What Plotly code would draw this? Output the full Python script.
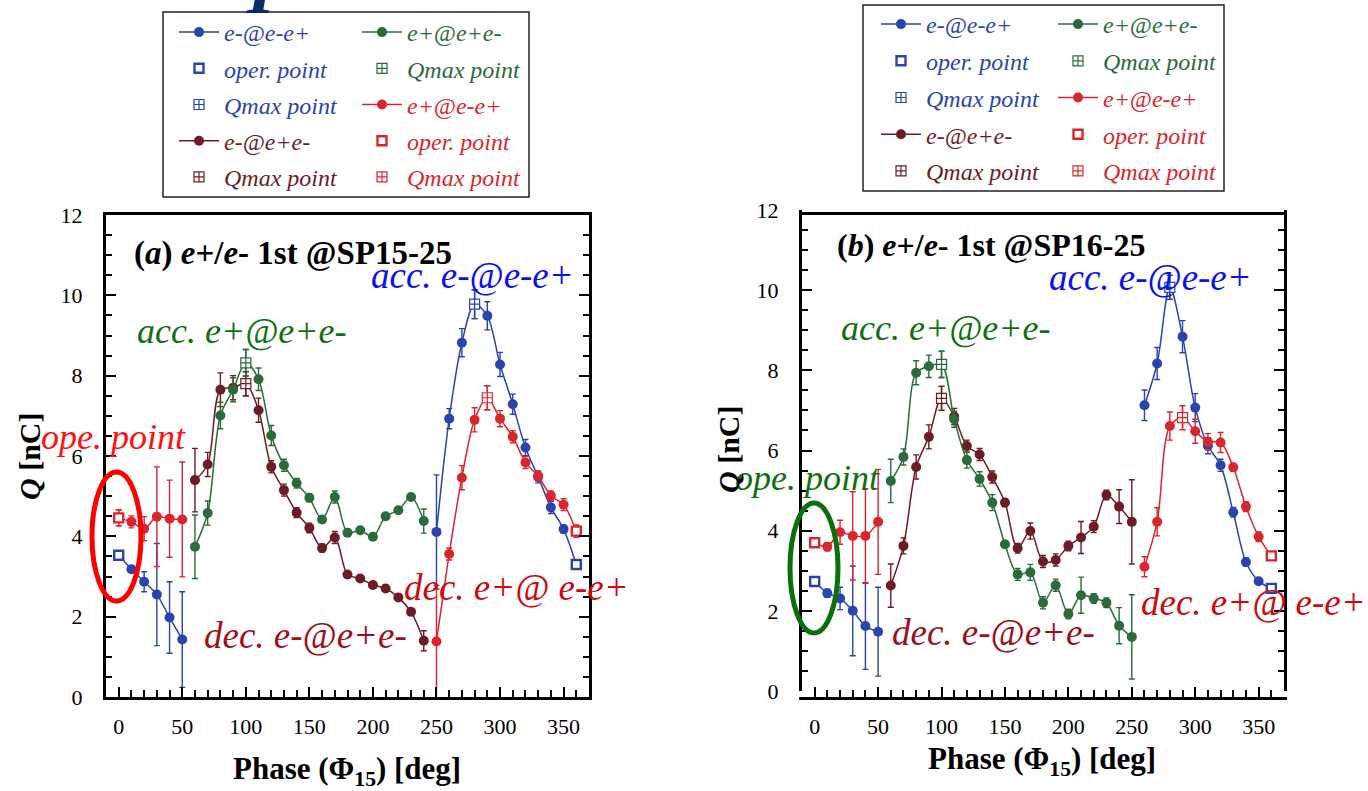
import plotly.graph_objects as go

W, H = 1368, 791
SERIF = "Liberation Serif"

BLUE = "#2a44ad"
GREEN = "#2b6a3b"
RED = "#d9262e"
DRED = "#6d1b25"

# ---------------- panel (a): e+/e- 1st @SP15-25 ----------------
phi_a_blue = [0, 10, 20, 30, 40, 50, None, 250, 260, 270, 280, 290, 300, 310, 320, 330, 340, 350, 360]
q_a_blue = [3.53, 3.18, 2.87, 2.55, 1.98, 1.43, None, 4.11, 6.93, 8.82, 9.78, 9.49, 8.28, 7.29, 6.21, 5.48, 4.72, 4.18, 3.30]
e_a_blue = [0.10, 0.08, 0.25, 1.27, 0.89, 1.19, None, 1.42, 0.25, 0.35, 0.36, 0.35, 0.30, 0.25, 0.20, 0.15, 0.15, 0.10, 0.10]

phi_a_red = [0, 10, 20, 30, 40, 50, None, 250, 260, 270, 280, 290, 300, 310, 320, 330, 340, 350, 360]
q_a_red = [4.46, 4.36, 4.19, 4.49, 4.44, 4.42, None, 1.38, 3.56, 5.46, 6.90, 7.45, 6.93, 6.48, 5.84, 5.50, 5.01, 4.79, 4.13]
e_a_red = [0.20, 0.15, 0.30, 1.24, 0.96, 1.43, None, 1.40, 0.15, 0.30, 0.30, 0.30, 0.20, 0.15, 0.15, 0.12, 0.12, 0.15, 0.15]

phi_a_green = [60, 70, 80, 90, 100, 110, 120, 130, 140, 150, 160, 170, 180, 190, 200, 210, 220, 230, 240]
q_a_green = [3.74, 4.58, 7.01, 7.65, 8.32, 7.91, 6.51, 5.77, 5.32, 4.96, 4.42, 4.98, 4.09, 4.15, 3.99, 4.50, 4.65, 4.98, 4.38]
e_a_green = [0.79, 0.30, 0.33, 0.30, 0.33, 0.28, 0.25, 0.15, 0.12, 0.10, 0.08, 0.15, 0.08, 0.06, 0.06, 0.06, 0.06, 0.06, 0.30]

phi_a_dred = [60, 70, 80, 90, 100, 110, 120, 130, 140, 150, 160, 170, 180, 190, 200, 210, 220, 230, 240]
q_a_dred = [5.40, 5.79, 7.65, 7.70, 7.80, 7.14, 5.73, 5.15, 4.59, 4.21, 3.71, 3.97, 3.05, 2.95, 2.79, 2.70, 2.48, 2.12, 1.40]
e_a_dred = [0.79, 0.30, 0.42, 0.30, 0.30, 0.30, 0.15, 0.15, 0.12, 0.12, 0.10, 0.15, 0.06, 0.05, 0.05, 0.05, 0.05, 0.06, 0.25]

oper_a_blue = [0, 360]
oper_a_red = [0, 360]
qmax_a_blue = [280]
qmax_a_red = [290]
qmax_a_green = [100]
qmax_a_dred = [100]

# ---------------- panel (b): e+/e- 1st @SP16-25 ----------------
phi_b_blue = [0, 10, 20, 30, 40, 50, None, 260, 270, 280, 290, 300, 310, 320, 330, 340, 350, 360]
q_b_blue = [2.73, 2.44, 2.31, 2.00, 1.62, 1.48, None, 7.13, 8.17, 10.07, 8.84, 7.07, 6.12, 5.63, 4.46, 3.22, 2.74, 2.56]
e_b_blue = [0.08, 0.10, 0.28, 1.12, 1.08, 1.11, None, 0.38, 0.40, 0.30, 0.40, 0.35, 0.20, 0.15, 0.12, 0.10, 0.08, 0.05]

phi_b_red = [0, 10, 20, 30, 40, 50, None, 260, 270, 280, 290, 300, 310, 320, 330, 340, 350, 360]
q_b_red = [3.70, 3.60, 3.96, 3.87, 3.87, 4.22, None, 3.10, 4.22, 6.61, 6.82, 6.48, 6.22, 6.20, 5.58, 4.60, 3.85, 3.37]
e_b_red = [0.10, 0.10, 0.30, 1.10, 1.18, 1.31, None, 0.25, 0.35, 0.35, 0.30, 0.30, 0.20, 0.25, 0.10, 0.12, 0.12, 0.10]

phi_b_green = [60, 70, 80, 90, 100, 110, 120, 130, 140, 150, 160, 170, 180, 190, 200, 210, 220, 230, 240, 250]
q_b_green = [5.24, 5.84, 7.94, 8.10, 8.15, 6.78, 5.76, 5.29, 4.70, 3.66, 2.91, 2.96, 2.20, 2.64, 1.92, 2.39, 2.31, 2.20, 1.63, 1.35]
e_b_green = [0.54, 0.20, 0.30, 0.28, 0.33, 0.20, 0.20, 0.18, 0.20, 0.08, 0.15, 0.20, 0.15, 0.15, 0.12, 0.45, 0.12, 0.12, 0.45, 1.05]

phi_b_dred = [60, 70, 80, 90, 100, 110, 120, 130, 140, 150, 160, 170, 180, 190, 200, 210, 220, 230, 240, 250]
q_b_dred = [2.63, 3.62, 5.59, 6.34, 7.30, 6.85, 6.11, 5.90, 5.34, 4.70, 3.56, 3.99, 3.23, 3.27, 3.62, 3.83, 4.10, 4.89, 4.60, 4.22]
e_b_dred = [0.54, 0.20, 0.30, 0.30, 0.30, 0.20, 0.15, 0.15, 0.15, 0.10, 0.12, 0.20, 0.15, 0.15, 0.12, 0.40, 0.15, 0.12, 0.42, 1.05]

oper_b_blue = [0, 360]
oper_b_red = [0, 360]
qmax_b_blue = [280]
qmax_b_red = [290]
qmax_b_green = [100]
qmax_b_dred = [100]

# legend labels
lbl_blue = "e-@e-e+"
lbl_green = "e+@e+e-"
lbl_red = "e+@e-e+"
lbl_dred = "e-@e+e-"
lbl_oper = "oper. point"
lbl_qmax = "Qmax point"


def px(x):
    return x / W


def py(y):
    return 1 - y / H


def col(text, c):
    return "<span style='color:%s'>%s</span>" % (c, text)


fig = go.Figure()
group_counter = [0]


def series(phi, q, err, color, label, xa, ya, legend, rank):
    group_counter[0] += 1
    fig.add_trace(go.Scatter(
        x=phi, y=q, mode="lines+markers", connectgaps=False,
        line=dict(color=color, width=1.5, shape="spline", smoothing=0.9),
        marker=dict(symbol="circle", size=10, color=color),
        error_y=dict(type="data", array=err, color=color, thickness=1.4, width=3),
        name=col(label, color), legend=legend, legendrank=rank,
        legendgroup="g%d" % group_counter[0], xaxis=xa, yaxis=ya))


def points(sel, phi, q, err, color, kind, label, xa, ya, legend, rank):
    group_counter[0] += 1
    xs = [p for p in sel]
    ys = [q[phi.index(p)] for p in sel]
    es = [err[phi.index(p)] for p in sel]
    if kind == "oper":
        mk = dict(symbol="square", size=9, color="white", line=dict(color=color, width=2.4))
    else:
        mk = dict(symbol="square-cross", size=10, color="white", line=dict(color=color, width=1.2))
    fig.add_trace(go.Scatter(
        x=xs, y=ys, mode="markers", marker=mk,
        error_y=dict(type="data", array=es, color=color, thickness=1.4, width=3),
        name=col(label, color), legend=legend, legendrank=rank,
        legendgroup="g%d" % group_counter[0], xaxis=xa, yaxis=ya))


# panel (a) main curves
series(phi_a_blue, q_a_blue, e_a_blue, BLUE, lbl_blue, "x", "y", "legend", 1)
series(phi_a_dred, q_a_dred, e_a_dred, DRED, lbl_dred, "x", "y", "legend", 4)
series(phi_a_green, q_a_green, e_a_green, GREEN, lbl_green, "x", "y", "legend2", 1)
series(phi_a_red, q_a_red, e_a_red, RED, lbl_red, "x", "y", "legend2", 3)
# panel (a) special points
points(oper_a_blue, phi_a_blue, q_a_blue, e_a_blue, BLUE, "oper", lbl_oper, "x", "y", "legend", 2)
points(qmax_a_blue, phi_a_blue, q_a_blue, e_a_blue, BLUE, "qmax", lbl_qmax, "x", "y", "legend", 3)
points(qmax_a_dred, phi_a_dred, q_a_dred, e_a_dred, DRED, "qmax", lbl_qmax, "x", "y", "legend", 5)
points(qmax_a_green, phi_a_green, q_a_green, e_a_green, GREEN, "qmax", lbl_qmax, "x", "y", "legend2", 2)
points(oper_a_red, phi_a_red, q_a_red, e_a_red, RED, "oper", lbl_oper, "x", "y", "legend2", 4)
points(qmax_a_red, phi_a_red, q_a_red, e_a_red, RED, "qmax", lbl_qmax, "x", "y", "legend2", 5)

# panel (b) main curves
series(phi_b_blue, q_b_blue, e_b_blue, BLUE, lbl_blue, "x2", "y2", "legend3", 1)
series(phi_b_dred, q_b_dred, e_b_dred, DRED, lbl_dred, "x2", "y2", "legend3", 4)
series(phi_b_green, q_b_green, e_b_green, GREEN, lbl_green, "x2", "y2", "legend4", 1)
series(phi_b_red, q_b_red, e_b_red, RED, lbl_red, "x2", "y2", "legend4", 3)
points(oper_b_blue, phi_b_blue, q_b_blue, e_b_blue, BLUE, "oper", lbl_oper, "x2", "y2", "legend3", 2)
points(qmax_b_blue, phi_b_blue, q_b_blue, e_b_blue, BLUE, "qmax", lbl_qmax, "x2", "y2", "legend3", 3)
points(qmax_b_dred, phi_b_dred, q_b_dred, e_b_dred, DRED, "qmax", lbl_qmax, "x2", "y2", "legend3", 5)
points(qmax_b_green, phi_b_green, q_b_green, e_b_green, GREEN, "qmax", lbl_qmax, "x2", "y2", "legend4", 2)
points(oper_b_red, phi_b_red, q_b_red, e_b_red, RED, "oper", lbl_oper, "x2", "y2", "legend4", 4)
points(qmax_b_red, phi_b_red, q_b_red, e_b_red, RED, "qmax", lbl_qmax, "x2", "y2", "legend4", 5)

tickfont = dict(family=SERIF, size=22, color="black")


def xaxis_cfg(x0, x1):
    return dict(domain=[px(x0), px(x1)], range=[-10, 370], dtick=50, tick0=0,
                ticks="inside", ticklen=10, tickwidth=2, tickcolor="black",
                minor=dict(dtick=10, ticks="inside", ticklen=7, tickwidth=2, tickcolor="black"),
                showline=True, linewidth=3, linecolor="black", mirror=True,
                showgrid=False, zeroline=False, tickfont=tickfont, ticklabelstandoff=8,
                automargin=False)


def yaxis_cfg(y0, y1, anchor):
    return dict(domain=[py(y1), py(y0)], range=[0, 12], dtick=2, tick0=0, anchor=anchor,
                ticks="inside", ticklen=10, tickwidth=2, tickcolor="black",
                minor=dict(dtick=0.5, ticks="inside", ticklen=6, tickwidth=2, tickcolor="black"),
                showline=True, linewidth=3, linecolor="black", mirror="allticks",
                showgrid=False, zeroline=False, tickfont=tickfont, ticklabelstandoff=16,
                automargin=False)


def legend_cfg(x, y, gap):
    return dict(x=px(x), y=py(y), bgcolor="rgba(0,0,0,0)", borderwidth=0,
                font=dict(family=SERIF, size=24, style="italic"),
                xanchor="left", yanchor="top", tracegroupgap=gap, itemwidth=40,
                traceorder="grouped")


fig.update_layout(
    width=W, height=H, margin=dict(l=0, r=0, t=0, b=0, autoexpand=False),
    paper_bgcolor="white", plot_bgcolor="white",
    xaxis=xaxis_cfg(106, 589), yaxis=yaxis_cfg(215, 697, "x"),
    xaxis2=xaxis_cfg(802, 1284), yaxis2=yaxis_cfg(210, 691, "x2"),
    legend=legend_cfg(174, 10, 2),
    legend2=legend_cfg(357, 10, 2),
    legend3=legend_cfg(876, 2, 2.5),
    legend4=legend_cfg(1053, 2, 2.5),
    showlegend=True,
)

# legend frames
for (x0, y0, x1, y1) in [(163, 12, 529, 197), (863, 5, 1224, 191)]:
    fig.add_shape(type="rect", xref="paper", yref="paper",
                  x0=px(x0), x1=px(x1), y0=py(y1), y1=py(y0),
                  line=dict(color="#222222", width=1.5), fillcolor="rgba(0,0,0,0)")

# highlight ellipses
fig.add_shape(type="circle", xref="paper", yref="paper",
              x0=px(92), x1=px(141), y0=py(601), y1=py(472),
              line=dict(color="#ff0000", width=5))
fig.add_shape(type="circle", xref="paper", yref="paper",
              x0=px(790), x1=px(838), y0=py(633), y1=py(503),
              line=dict(color="#0a700a", width=5))


def note(text, x, y, size, color, bold=False, italic=True, angle=0, xanchor="left", yanchor="middle"):
    t = text
    if italic:
        t = "<i>%s</i>" % t
    if bold:
        t = "<b>%s</b>" % t
    fig.add_annotation(text=t, x=px(x), y=py(y), xref="paper", yref="paper",
                       xanchor=xanchor, yanchor=yanchor, showarrow=False, textangle=angle,
                       font=dict(family=SERIF, size=size, color=color))


# fragment of a large navy glyph cut off at the top edge (as in the source image)
note("I", 262, 31, 72, "#0b2a6b", bold=True, italic=True, xanchor="center", yanchor="bottom")

# panel titles
note("(<i>a</i>) <i>e</i>+/<i>e</i>- 1st @SP15-25", 132, 253, 33, "black", bold=True, italic=False)
note("(<i>b</i>) <i>e</i>+/<i>e</i>- 1st @SP16-25", 835, 245, 32, "black", bold=True, italic=False)

# in-plot labels panel (a)
LS = 36
note("acc. e-@e-e+", 369, 275, 37, "#0a10f0")
note("acc. e+@e+e-", 135, 331, LS, "#107010")
note("ope. point", 39, 437, LS, "#ff1010")
note("dec. e-@e+e-", 202, 635, 37, "#a00e1a")
note("dec. e+@ e-e+", 402, 587, 37, "#cc0a10")
# in-plot labels panel (b)
note("acc. e-@e-e+", 1047, 277, 37, "#0a10f0")
note("acc. e+@e+e-", 839, 328, LS, "#107010")
note("ope. point", 733, 478, LS, "#107010")
note("dec. e-@e+e-", 890, 632, 37, "#a00e1a")
note("dec. e+@ e-e+", 1139, 602, 37, "#cc0a10")

# axis titles
for (x, y) in [(29, 456), (728, 449)]:
    note("<i>Q</i> [nC]", x, y, 30, "black", bold=True, italic=False, angle=-90, xanchor="center")
for (x, y) in [(347, 771), (1042, 761)]:
    note("Phase (Φ<sub>15</sub>) [deg]", x, y, 31, "black", bold=True, italic=False, xanchor="center")

# the page body gets no default margin, so figure pixels map 1:1 onto the window
fig.write_html("out.html", config={"displayModeBar": False},
               post_script="document.body.style.margin='0px';")
